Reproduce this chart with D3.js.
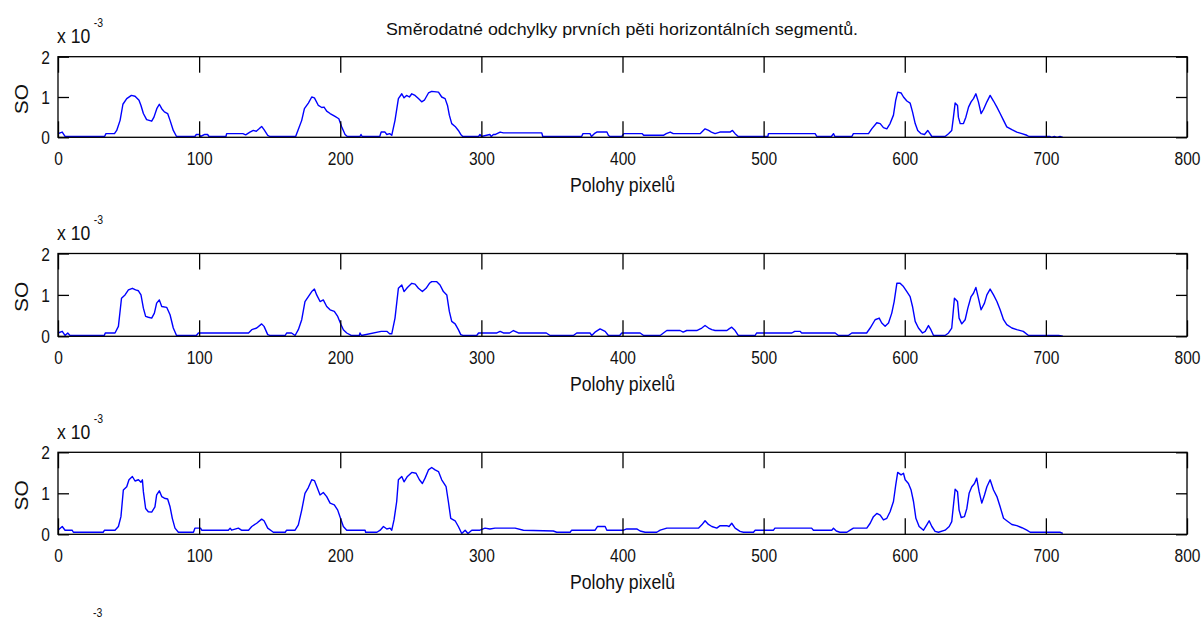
<!DOCTYPE html>
<html>
<head>
<meta charset="utf-8">
<script src="https://cdn.jsdelivr.net/npm/d3@7/dist/d3.min.js"></script>
<style>
html,body{margin:0;padding:0;background:#fff;}
svg{display:block;}
text{font-family:"Liberation Sans",Arial,sans-serif;fill:#111;}
</style>
</head>
<body>
<svg id="chart" width="1204" height="619"></svg>
<script>
// ---------- DATA (values in units of 10^-3) ----------
const titleText = "Směrodatné odchylky prvních pěti horizontálních segmentů.";
const xLabel = "Polohy pixelů";
const yLabel = "SO";
const xTicks = [0, 100, 200, 300, 400, 500, 600, 700, 800];
const yTicks = [0, 1, 2];
const multText = "x 10";
const exponentText = "-3";

const seg1X = [0,3,5,33,34,40,41.6,44,46,48.7,52,54.6,57.4,58.8,60.5,62.8,66.4,68,70,71.8,73.5,75.4,77.7,79.4,81.7,84,97,98,100,101,104,106,107,119,119.5,131,133,136,138.4,140.5,142.5,144.3,146,148.6,150,168.4,170,172.7,174.6,177.4,179.8,181.7,184.5,186.9,188.5,190.4,192.8,196.3,199,201,203.4,205,214,214.7,215.5,228,229,231.7,233,235,236.5,238.8,241.2,243.6,245.2,247,249,250.7,253,255.4,257.7,259.6,262.5,264.8,269.6,271.9,274.3,276,277.3,279,281.4,283.7,285.4,286.8,298,299,300,306,307,308.5,310,313.3,315.6,342.8,343.5,371,372,377,378,380,381.8,389,390,391,399.5,401,414,415,429,431,433.8,436,455,458.5,461,463,465.6,469,476.2,477.9,479.8,482,503,503.4,536.5,537.7,548,549.5,550.5,562.5,563.6,574.3,576.6,580.2,582.6,584.9,587.3,589.6,592,593.6,595,597.4,599.1,601.5,603.8,605.5,607.4,609.2,611.6,614,616.3,617.5,619.2,628.6,631,633.3,634.5,635.7,637.4,638,639.3,641.6,643.3,645.2,647,648.7,650.4,652.2,654.1,655.8,658.2,660.5,662.9,665.3,667.6,670,672.3,675.9,679.4,683,686.5,688,703,704,706,708,710,712];
const seg1Y = [0.09,0.13,0.02,0.02,0.09,0.09,0.17,0.42,0.82,0.96,1.04,1.02,0.92,0.79,0.59,0.44,0.40,0.5,0.71,0.82,0.71,0.63,0.59,0.42,0.17,0.02,0.02,0.07,0.07,0.02,0.07,0.07,0.02,0.02,0.09,0.09,0.06,0.13,0.17,0.15,0.21,0.27,0.19,0.05,0.02,0.02,0.17,0.42,0.71,0.85,1.0,0.98,0.79,0.74,0.75,0.65,0.59,0.52,0.46,0.26,0.07,0.02,0.02,0.07,0.02,0.02,0.13,0.13,0.07,0.09,0.05,0.42,0.96,1.08,0.98,1.04,1.0,1.08,1.04,0.96,0.88,0.92,1.1,1.14,1.12,1.0,0.96,0.79,0.55,0.34,0.27,0.17,0.07,0.02,0.02,0.07,0.02,0.07,0.02,0.07,0.07,0.13,0.11,0.11,0.02,0.02,0.09,0.09,0.02,0.09,0.13,0.13,0.05,0.02,0.02,0.09,0.09,0.05,0.05,0.09,0.13,0.09,0.09,0.21,0.17,0.13,0.09,0.13,0.13,0.17,0.09,0.02,0.02,0.09,0.09,0.02,0.02,0.09,0.02,0.02,0.09,0.09,0.21,0.36,0.34,0.24,0.21,0.34,0.55,0.92,1.12,1.1,1.0,0.9,0.85,0.63,0.34,0.17,0.09,0.07,0.17,0.11,0.02,0.02,0.09,0.17,0.5,0.85,0.79,0.5,0.34,0.34,0.5,0.75,0.88,0.96,1.08,0.88,0.59,0.69,0.88,1.04,0.9,0.75,0.59,0.42,0.26,0.19,0.13,0.09,0.05,0.02,0.02,0.0,0.02,0.0,0.02,0.0];

const seg2X = [0,3,5,6.9,8.5,32.8,33.5,40.4,42.8,45,47.5,49.9,52.7,55,57,58.8,60.5,62.1,64,66.4,68.3,69.9,71.8,73.5,77,79.4,81.7,84,98,99.5,135,137.3,140.8,144.3,146,148.6,150,161,162,165.5,168,170.3,172.7,175,177.4,179.8,181.7,183.3,185.7,188,190.4,192.8,195.8,198.2,200.6,202.2,204.6,207.7,213.5,214,215,229,233,235,236.5,238.8,241.2,243.6,245.2,247.6,250.7,253,255.4,258.2,260.8,263.2,264.8,268.4,270.7,273.1,275.5,277.3,279,281.4,283.7,285.4,286.8,296.7,298,311,313.3,315.6,320,322.7,326.2,346,348.7,365.2,367.6,377,378.2,380.5,384.1,387.7,390,398,399.5,412.5,415,426.7,429,431.4,440.8,443,445.5,452.6,456.2,458.5,461,463.3,465.6,474,475.5,477.4,479.8,482,494,495,520,522,525.8,527,550.7,553,560,562.5,573,575.5,579,581.9,583.7,586.1,588.5,590.8,592.5,594.4,596.7,599.1,601.5,603.8,605.5,607.4,609.7,612.6,614.5,616.8,618.5,620.4,628.6,631,633.3,635.2,637.4,638.5,640.4,642.8,644.7,647,648.7,650.4,652.2,654.1,656.5,658.2,660.5,662.9,665.3,667.6,670,672.3,675.9,679.4,684,687.7,709,712];
const seg2Y = [0.08,0.12,0.02,0.08,0.02,0.02,0.08,0.08,0.24,0.92,1.0,1.12,1.16,1.12,1.1,1.0,0.68,0.48,0.46,0.44,0.56,0.8,0.88,0.72,0.70,0.52,0.2,0.02,0.02,0.08,0.08,0.16,0.2,0.3,0.24,0.04,0.02,0.02,0.08,0.08,0.02,0.16,0.4,0.84,0.96,1.08,1.14,1.0,0.84,0.88,0.72,0.64,0.6,0.48,0.28,0.16,0.08,0.02,0.02,0.08,0.02,0.12,0.12,0.06,0.06,0.44,1.16,1.24,1.08,1.18,1.28,1.26,1.16,1.08,1.16,1.28,1.32,1.32,1.24,1.08,1.0,0.6,0.36,0.3,0.16,0.04,0.02,0.02,0.08,0.08,0.12,0.08,0.08,0.14,0.08,0.08,0.02,0.02,0.08,0.08,0.02,0.1,0.18,0.12,0.02,0.02,0.08,0.08,0.02,0.02,0.08,0.14,0.14,0.1,0.14,0.14,0.2,0.26,0.2,0.16,0.14,0.14,0.18,0.22,0.14,0.02,0.02,0.08,0.08,0.12,0.12,0.08,0.08,0.02,0.02,0.08,0.08,0.2,0.4,0.44,0.32,0.24,0.32,0.56,0.84,1.28,1.28,1.2,1.08,0.96,0.72,0.36,0.2,0.08,0.12,0.26,0.16,0.02,0.02,0.08,0.2,0.92,0.84,0.44,0.3,0.4,0.68,0.96,1.04,1.18,0.92,0.64,0.8,1.0,1.14,1.0,0.84,0.64,0.4,0.28,0.2,0.16,0.12,0.02,0.02,0.0];

const seg3X = [0,3,5,10,10.9,32,33,40.4,42.8,44.6,46.3,48.7,50.3,52.7,54.6,57,58.8,59.8,60.5,62.1,64,66.4,68.7,69.9,71.8,73.5,75.4,77.7,79.4,81,82.9,85.3,96,97,101,101.8,120.7,122,123,127.8,130,135,137.3,140.8,144.3,146,148.6,151.4,152.6,161,162,168,170.3,172.7,175,177.4,179.8,181.7,183.3,185.7,188,190.4,192.8,195.8,198.2,200.6,202.2,204.6,217.6,218,226,228.3,230.6,233,235.3,236.5,238.1,240,241.2,243.6,245.2,247.6,250.7,253.7,256.1,258.2,260.1,262.5,264.8,267.2,269.6,271.9,275,276.6,278.3,281.4,283.7,286.1,288.5,290.5,293.2,299,302.6,306,309.7,323.9,329.8,351,353.4,362.9,364,380.6,382.2,387.7,388.9,400.7,403,410.1,412.5,416,424.3,426.7,431.4,453.8,456.2,458.5,460.9,463.3,466.8,469.2,473.9,475.5,477.4,479.8,483.3,485.7,492.8,494,507,508,534,535.3,548.3,549.5,551.5,554,559,561.3,563.6,573.1,575.5,577.8,580.2,582.6,584.9,587.3,589.6,592,593.6,595,597.4,599.1,600.3,602.6,604.5,606.2,607.9,610.2,613.3,615.6,617.3,619.2,621.5,623.9,628.6,631.5,633.3,635.7,637.4,638.5,640,642.3,644,645.6,647.5,649.4,651,652.7,654.6,656.5,658.2,660.5,662.9,665.3,667.6,670,672.3,675.9,679.4,683,686.5,688.9,710,712];
const seg3Y = [0.1,0.19,0.1,0.1,0.05,0.05,0.1,0.1,0.19,0.43,1.08,1.16,1.33,1.41,1.3,1.33,1.27,1.33,1.04,0.63,0.55,0.54,0.67,0.96,1.06,0.92,0.88,0.86,0.67,0.39,0.15,0.05,0.05,0.15,0.15,0.1,0.1,0.15,0.1,0.15,0.1,0.1,0.19,0.27,0.37,0.33,0.15,0.08,0.05,0.05,0.1,0.1,0.23,0.59,1.0,1.14,1.33,1.31,1.17,0.96,1.02,0.92,0.76,0.72,0.59,0.35,0.19,0.1,0.1,0.05,0.05,0.1,0.19,0.13,0.15,0.1,0.35,0.8,1.33,1.41,1.28,1.41,1.51,1.49,1.33,1.24,1.37,1.57,1.63,1.57,1.53,1.33,1.16,0.8,0.39,0.33,0.19,0.02,0.1,0.02,0.1,0.1,0.15,0.13,0.15,0.15,0.1,0.08,0.05,0.05,0.1,0.1,0.19,0.19,0.1,0.1,0.13,0.13,0.08,0.05,0.05,0.1,0.15,0.15,0.23,0.33,0.24,0.19,0.15,0.21,0.21,0.19,0.27,0.15,0.07,0.05,0.05,0.1,0.1,0.15,0.15,0.1,0.1,0.15,0.08,0.05,0.05,0.1,0.15,0.15,0.27,0.43,0.51,0.47,0.35,0.39,0.55,0.8,1.2,1.51,1.45,1.49,1.33,1.24,1.08,0.8,0.39,0.19,0.1,0.23,0.33,0.19,0.07,0.05,0.1,0.19,0.31,1.1,1.04,0.59,0.41,0.43,0.63,1.0,1.16,1.24,1.37,1.04,0.76,0.96,1.16,1.33,1.08,0.92,0.67,0.39,0.33,0.24,0.21,0.16,0.1,0.05,0.05,0.02];

const panels = [
  {xs: seg1X, ys: seg1Y, top: 56.7, bottom: 137.3},
  {xs: seg2X, ys: seg2Y, top: 253.5, bottom: 336.3},
  {xs: seg3X, ys: seg3Y, top: 452.3, bottom: 534.3}
];

// ---------- DRAW ----------
const svg = d3.select("#chart");
const left = 58, right = 1187;
const SQUEEZE = 0.84; // reference text is horizontally condensed

function condense(sel, k) {
  sel.each(function () {
    const L = this.getComputedTextLength();
    d3.select(this).attr("textLength", L * k).attr("lengthAdjust", "spacingAndGlyphs");
  });
}

svg.append("text")
  .attr("x", 622).attr("y", 35)
  .attr("text-anchor", "middle")
  .attr("font-size", 17)
  .attr("textLength", 472).attr("lengthAdjust", "spacingAndGlyphs")
  .text(titleText);

panels.forEach(p => {
  const x = d3.scaleLinear().domain([0, 800]).range([left, right]);
  const y = d3.scaleLinear().domain([0, 2]).range([p.bottom, p.top]);
  const g = svg.append("g");

  // line
  const pts = p.xs.map((v, i) => [v, p.ys[i]]);
  g.append("path")
    .datum(pts)
    .attr("fill", "none")
    .attr("stroke", "#0000ff")
    .attr("stroke-width", 1.4)
    .attr("stroke-linejoin", "round")
    .attr("d", d3.line().x(d => x(d[0])).y(d => y(d[1])));

  // axes (inner ticks, MATLAB-style)
  const xb = d3.axisBottom(x).tickValues(xTicks).tickSize(-16).tickFormat(d3.format("d"));
  const xt = d3.axisTop(x).tickValues(xTicks).tickSize(-16).tickFormat("");
  const yl = d3.axisLeft(y).tickValues(yTicks).tickSize(-11).tickFormat(d3.format("d"));
  const yr = d3.axisRight(y).tickValues(yTicks).tickSize(-11).tickFormat("");

  const styleAxis = sel => {
    sel.selectAll(".tick line").attr("stroke", "#000").attr("stroke-width", 1.3);
    sel.selectAll(".tick text").attr("font-size", 18.5).attr("font-family", "'Liberation Sans', Arial, sans-serif").attr("fill", "#111");
  };
  const gxb = g.append("g").attr("transform", `translate(0,${p.bottom})`).call(xb).call(styleAxis);
  gxb.selectAll(".tick text").attr("y", 28).attr("dy", 0);
  g.append("g").attr("transform", `translate(0,${p.top})`).call(xt).call(styleAxis);
  const gyl = g.append("g").attr("transform", `translate(${left},0)`).call(yl).call(styleAxis);
  gyl.selectAll(".tick text").attr("x", -8).attr("dy", "0.36em");
  g.append("g").attr("transform", `translate(${right},0)`).call(yr).call(styleAxis);
  g.selectAll(".domain").remove();
  condense(g.selectAll(".tick text"), SQUEEZE);

  g.append("rect")
    .attr("x", left).attr("y", p.top)
    .attr("width", right - left).attr("height", p.bottom - p.top)
    .attr("fill", "none").attr("stroke", "#000").attr("stroke-width", 1.3);

  // labels
  const xl = g.append("text")
    .attr("x", (left + right) / 2).attr("y", p.bottom + 55)
    .attr("text-anchor", "middle").attr("font-size", 21)
    .text(xLabel);
  condense(xl, SQUEEZE);
  g.append("text")
    .attr("transform", `translate(28,${(p.top + p.bottom) / 2 + 2}) scale(${SQUEEZE},1) rotate(-90)`)
    .attr("text-anchor", "middle").attr("font-size", 21)
    .text(yLabel);
  // "x 10^-3" multiplier as one text element (base + superscript)
  const mt = g.append("text")
    .attr("transform", `translate(57,${p.top - 13.4}) scale(${SQUEEZE},1)`)
    .attr("font-size", 21);
  mt.append("tspan").text(multText);
  mt.append("tspan").attr("dx", 4).attr("dy", -16).attr("font-size", 12.5).text(exponentText);
});

// partial exponent of a next (cut-off) panel
svg.append("text")
  .attr("transform", `translate(93,617) scale(${SQUEEZE},1)`)
  .attr("font-size", 12.5).text(exponentText);
</script>
</body>
</html>
